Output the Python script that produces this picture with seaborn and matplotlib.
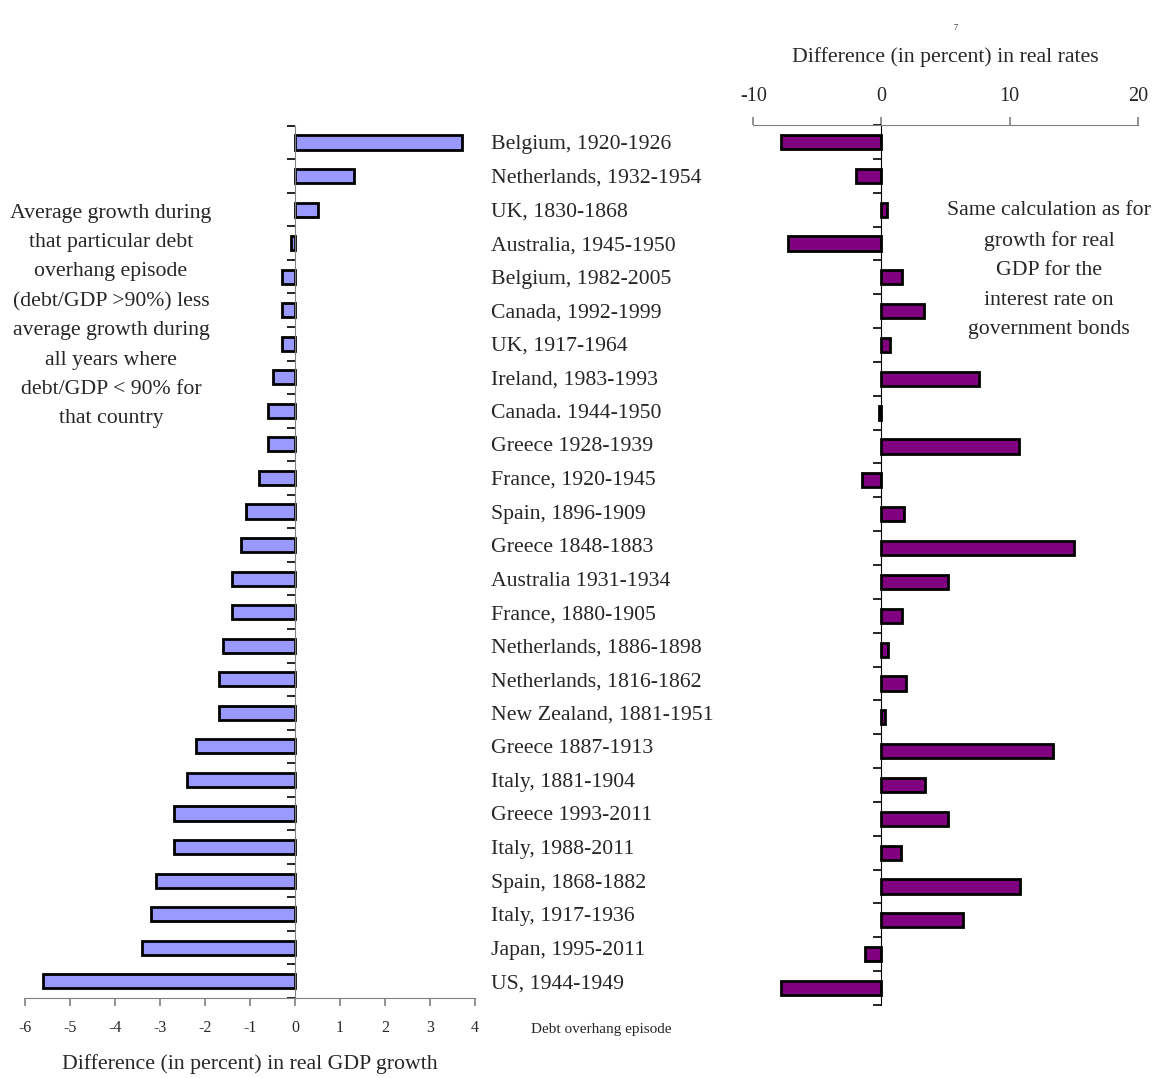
import matplotlib.pyplot as plt
from matplotlib.ticker import FixedLocator
import seaborn as sns
import pandas as pd

episodes = ['Belgium, 1920-1926', 'Netherlands, 1932-1954', 'UK, 1830-1868',
            'Australia, 1945-1950', 'Belgium, 1982-2005', 'Canada, 1992-1999',
            'UK, 1917-1964', 'Ireland, 1983-1993', 'Canada. 1944-1950',
            'Greece 1928-1939', 'France, 1920-1945', 'Spain, 1896-1909',
            'Greece 1848-1883', 'Australia 1931-1934', 'France, 1880-1905',
            'Netherlands, 1886-1898', 'Netherlands, 1816-1862',
            'New Zealand, 1881-1951', 'Greece 1887-1913', 'Italy, 1881-1904',
            'Greece 1993-2011', 'Italy, 1988-2011', 'Spain, 1868-1882',
            'Italy, 1917-1936', 'Japan, 1995-2011', 'US, 1944-1949']
gdp_diff = [3.7, 1.3, 0.5, -0.1, -0.3, -0.3, -0.3, -0.5, -0.6, -0.6, -0.8, -1.1,
            -1.2, -1.4, -1.4, -1.6, -1.7, -1.7, -2.2, -2.4, -2.7, -2.7, -3.1,
            -3.2, -3.4, -5.6]
rate_diff = [-7.8, -2.0, 0.4, -7.3, 1.6, 3.3, 0.7, 7.6, -0.2, 10.7, -1.5, 1.8,
             15.0, 5.2, 1.6, 0.5, 1.9, 0.3, 13.4, 3.4, 5.2, 1.5, 10.8, 6.4,
             -1.3, -7.8]
gdp_ticks = [-6, -5, -4, -3, -2, -1, 0, 1, 2, 3, 4]
rate_ticks = [-10, 0, 10, 20]

df = pd.DataFrame({'episode': episodes, 'gdp': gdp_diff, 'rate': rate_diff})

sns.set_style('white')
plt.rcParams['font.family'] = ['Liberation Serif', 'DejaVu Serif']

W, H = 1163, 1078
fig = plt.figure(figsize=(W / 100, H / 100), dpi=100)
axis_grey = '#808080'
fs = 15.7

# left panel: real GDP growth
ax1 = fig.add_axes([25 / W, 1 - 998 / H, 450 / W, (998 - 125.7) / H])
sns.barplot(data=df, x='gdp', y='episode', orient='h', color='#9999FF',
            saturation=1, edgecolor='black', linewidth=2, width=0.42, ax=ax1)
ax1.set_xlim(-6, 4)
ax1.set_ylim(len(episodes) - 0.5, -0.5)
ax1.set_xticks(gdp_ticks)
ax1.set_xticklabels([str(t) for t in gdp_ticks])
for s in ['top', 'right']:
    ax1.spines[s].set_visible(False)
ax1.spines['left'].set_position(('data', 0))
ax1.spines['left'].set_color(axis_grey)
ax1.spines['bottom'].set_color(axis_grey)
ax1.yaxis.set_minor_locator(FixedLocator([i - 0.5 for i in range(len(episodes) + 1)]))
ax1.tick_params(axis='y', which='major', left=False, right=False,
                labelleft=False, labelright=True, pad=8, labelsize=fs)
ax1.tick_params(axis='y', which='minor', left=True, length=6, width=1.2, color='black')
ax1.tick_params(axis='x', which='major', bottom=True, length=6, width=1.2,
                color=axis_grey, labelsize=11.5, pad=10)
for lab in ax1.get_yticklabels():
    lab.set_horizontalalignment('left')
ax1.set_ylabel('')
ax1.set_xlabel('Difference (in percent) in real GDP growth', fontsize=fs, labelpad=13)

# right panel: real interest rates
ax2 = fig.add_axes([753.3 / W, 1 - 1005 / H, 384.4 / W, 880 / H])
sns.barplot(data=df, x='rate', y='episode', orient='h', color='#800080',
            saturation=1, edgecolor='black', linewidth=2, width=0.42, ax=ax2)
ax2.set_xlim(-10, 20)
ax2.set_ylim(len(episodes) - 0.5, -0.5)
ax2.set_xticks(rate_ticks)
ax2.set_xticklabels([str(t) for t in rate_ticks])
ax2.xaxis.set_ticks_position('top')
ax2.xaxis.set_label_position('top')
for s in ['bottom', 'right']:
    ax2.spines[s].set_visible(False)
ax2.spines['top'].set_color(axis_grey)
ax2.spines['left'].set_position(('data', 0))
ax2.spines['left'].set_color('black')
ax2.yaxis.set_minor_locator(FixedLocator([i - 0.5 for i in range(len(episodes) + 1)]))
ax2.tick_params(axis='y', which='major', left=False, right=False,
                labelleft=False, labelright=False)
ax2.tick_params(axis='y', which='minor', left=True, length=6, width=1.2, color='black')
ax2.tick_params(axis='x', which='major', top=True, bottom=False, length=6, width=1.2,
                color=axis_grey, labelsize=14.5, pad=8)
ax2.set_ylabel('')
ax2.set_xlabel('Difference (in percent) in real rates', fontsize=fs, labelpad=18)

# annotations
fig.text(111 / W, 1 - 316 / H,
         'Average growth during\nthat particular debt\noverhang episode\n'
         '(debt/GDP >90%) less\naverage growth during\nall years where\n'
         'debt/GDP < 90% for\nthat country',
         ha='center', va='center', fontsize=fs, linespacing=1.74)
fig.text(1049 / W, 1 - 270 / H,
         'Same calculation as for\ngrowth for real\nGDP for the\n'
         'interest rate on\ngovernment bonds',
         ha='center', va='center', fontsize=fs, linespacing=1.74)
fig.text(601 / W, 1 - 1029 / H, 'Debt overhang episode',
         ha='center', va='center', fontsize=11)
fig.text(956 / W, 1 - 28 / H, '7', ha='center', va='center', fontsize=6)

fig.savefig('out.png', dpi=100)
